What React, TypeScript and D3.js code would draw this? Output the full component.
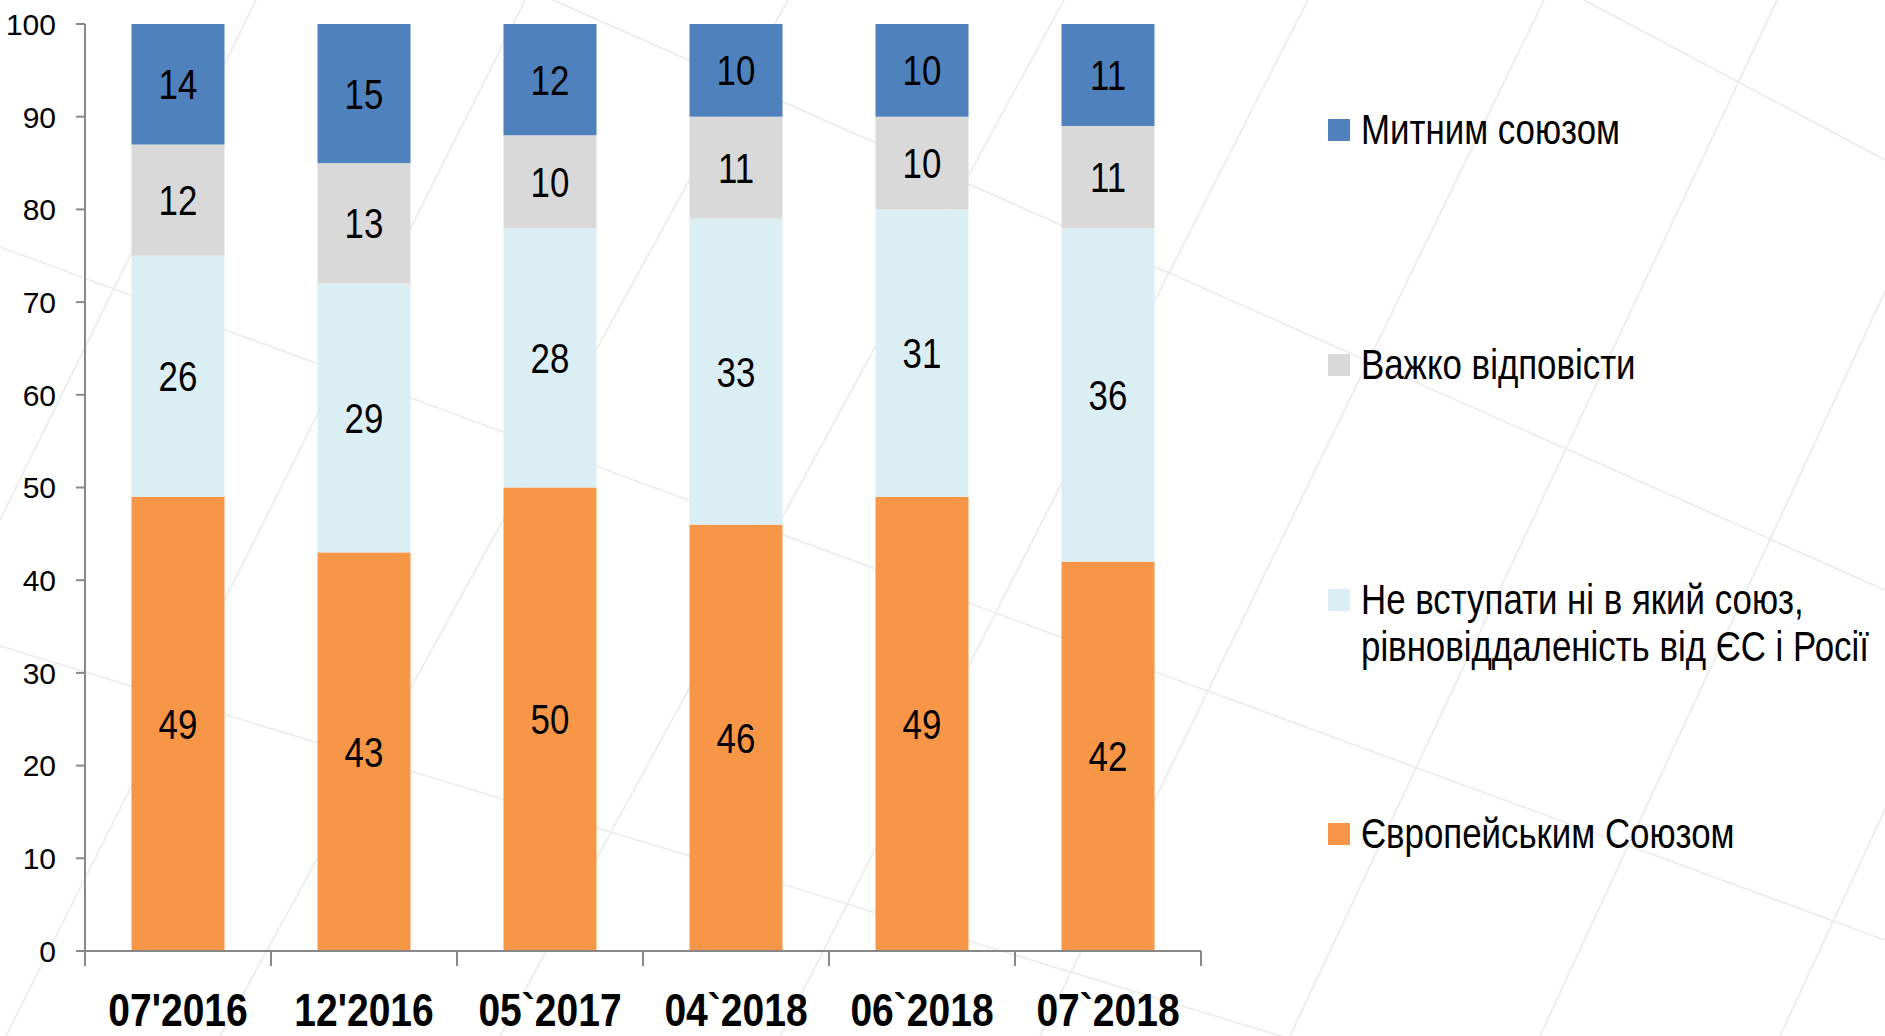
import React from "react";
import * as d3 from "d3";

const categories = ["07'2016", "12'2016", "05`2017", "04`2018", "06`2018", "07`2018"];
const euValues = [49, 43, 50, 46, 49, 42];
const neutralValues = [26, 29, 28, 33, 31, 36];
const hardValues = [12, 13, 10, 11, 10, 11];
const customsValues = [14, 15, 12, 10, 10, 11];
const yTicks = [0, 10, 20, 30, 40, 50, 60, 70, 80, 90, 100];

const seriesKeys = ["eu", "neutral", "hard", "customs"];
const seriesColors: Record<string, string> = {
  eu: "#F79646",
  neutral: "#DBEEF4",
  hard: "#D9D9D9",
  customs: "#4F81BD",
};
const legendItems = [
  { key: "customs", lines: ["Митним союзом"], y: 130 },
  { key: "hard", lines: ["Важко відповісти"], y: 365 },
  { key: "neutral", lines: ["Не вступати ні в який союз,", "рівновіддаленість від ЄС і Росії"], y: 600 },
  { key: "eu", lines: ["Європейським Союзом"], y: 834 },
];

const font = "'Liberation Sans', Arial, sans-serif";
const NARROW = 0.83;

const W = 1885;
const H = 1036;

function NarrowText(props: {
  x: number;
  y: number;
  size: number;
  anchor?: string;
  bold?: boolean;
  dy?: string;
  children: React.ReactNode;
}) {
  return (
    <text
      transform={`translate(${props.x},${props.y}) scale(${NARROW},1)`}
      dy={props.dy}
      textAnchor={props.anchor || "start"}
      fontFamily={font}
      fontSize={props.size}
      fontWeight={props.bold ? "bold" : "normal"}
      fill="#000"
    >
      {props.children}
    </text>
  );
}

export default function App() {
  const rows = categories.map((c, i) => ({
    cat: c,
    eu: euValues[i],
    neutral: neutralValues[i],
    hard: hardValues[i],
    customs: customsValues[i],
  }));
  const stacked = d3.stack<any>().keys(seriesKeys)(rows);

  const x = d3.scaleBand<string>().domain(categories).range([85, 1201]).paddingInner(0.5).paddingOuter(0.25);
  const y = d3.scaleLinear().domain([0, 100]).range([951, 24]).clamp(true);
  const step = x.step();

  // faint decorative background lines
  const bgLines = [
    [553, 0, 1885, 590],
    [0, 247, 1885, 940],
    [0, 646, 1885, 1220],
    [1584, 0, 1885, 160],
    [256, 0, 0, 520],
    [525, 0, 0, 1048],
    [788, 0, 220, 1036],
    [1064, 0, 500, 1036],
    [1308, 0, 780, 1036],
    [1544, 0, 1040, 1036],
    [1777, 0, 1290, 1036],
    [2020, 0, 1540, 1036],
    [2260, 0, 1780, 1036],
  ];

  return (
    <svg width={W} height={H} style={{ position: "absolute", left: 0, top: 0, background: "#fff" }}>
      <g>
        {bgLines.map((l, i) => (
          <line key={i} x1={l[0]} y1={l[1]} x2={l[2]} y2={l[3]} stroke="#eeeeee" strokeWidth={2} />
        ))}
      </g>
      {stacked.map((s) => (
        <g key={s.key} fill={seriesColors[s.key]}>
          {s.map((d, i) => {
            const y0 = y(d[0]);
            const y1 = y(d[1]);
            return <rect key={i} x={x(categories[i])} y={y1} width={x.bandwidth()} height={y0 - y1} />;
          })}
        </g>
      ))}
      {stacked.map((s) => (
        <g key={s.key + "-lbl"}>
          {s.map((d, i) => {
            const y0 = y(d[0]);
            const y1 = y(d[1]);
            return (
              <NarrowText
                key={i}
                x={(x(categories[i]) as number) + x.bandwidth() / 2}
                y={(y0 + y1) / 2}
                dy="0.36em"
                anchor="middle"
                size={42}
              >
                {(d.data as any)[s.key]}
              </NarrowText>
            );
          })}
        </g>
      ))}
      {/* Y axis */}
      <line x1={85} y1={y(0)} x2={85} y2={y(100)} stroke="#888" strokeWidth={2} />
      {yTicks.map((t) => (
        <g key={t}>
          <line x1={76} x2={85} y1={y(t)} y2={y(t)} stroke="#888" strokeWidth={2} />
          <text x={56} y={y(t)} dy="0.36em" textAnchor="end" fontFamily={font} fontSize={30} fill="#000">
            {t}
          </text>
        </g>
      ))}
      {/* X axis */}
      <line x1={85} y1={y(0)} x2={1201} y2={y(0)} stroke="#888" strokeWidth={2} />
      {d3.range(categories.length + 1).map((i) => (
        <line key={i} x1={85 + i * step} x2={85 + i * step} y1={y(0)} y2={y(0) + 15} stroke="#888" strokeWidth={2} />
      ))}
      {categories.map((c) => (
        <NarrowText key={c} x={(x(c) as number) + x.bandwidth() / 2} y={1026} anchor="middle" bold size={47}>
          {c}
        </NarrowText>
      ))}
      {/* Legend */}
      {legendItems.map((it) => (
        <g key={it.key}>
          <rect x={1328} y={it.y - 11} width={22} height={22} fill={seriesColors[it.key]} />
          {it.lines.map((ln, j) => (
            <NarrowText key={j} x={1361} y={it.y + j * 47} dy="0.34em" size={42}>
              {ln}
            </NarrowText>
          ))}
        </g>
      ))}
    </svg>
  );
}
